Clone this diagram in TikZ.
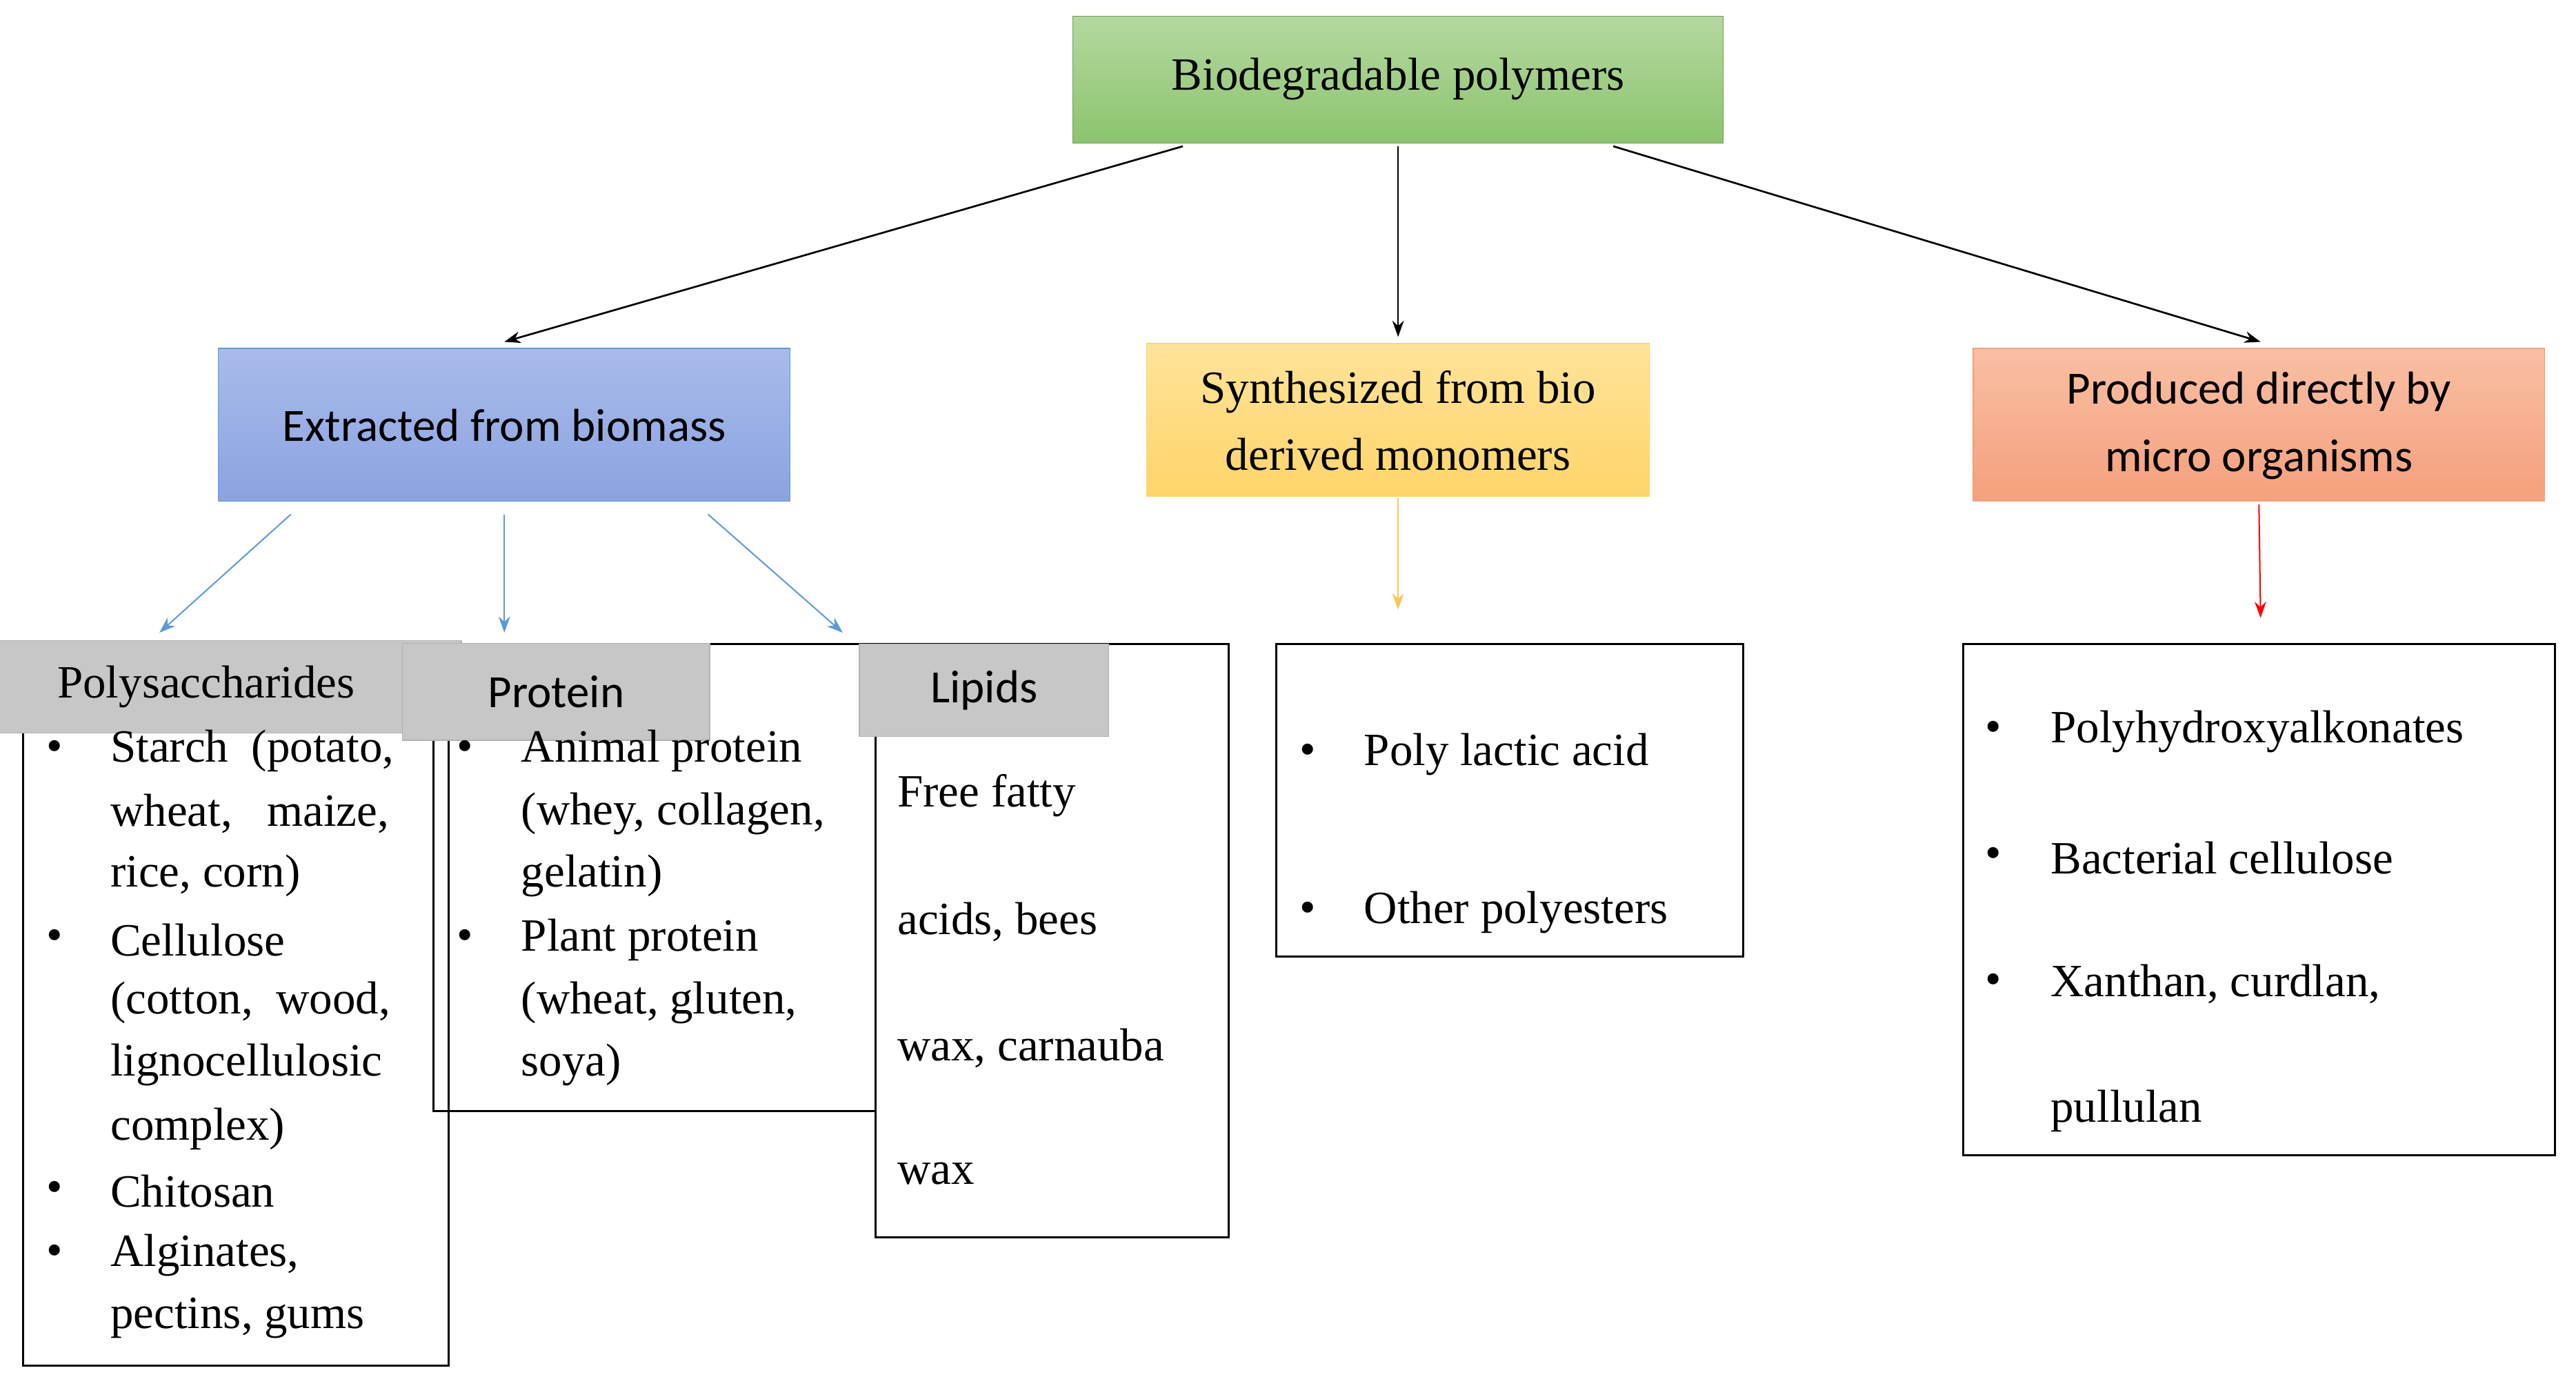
\documentclass[tikz,border=0pt]{standalone}
\usepackage{fontspec}
\setmainfont{Liberation Serif}
\newfontfamily\calfont{Carlito}
\usetikzlibrary{arrows.meta}
\definecolor{gA}{HTML}{B5D8A0}\definecolor{gB}{HTML}{8CC46E}
\definecolor{bA}{HTML}{A9BBEA}\definecolor{bB}{HTML}{8AA3E0}
\definecolor{yA}{HTML}{FFE49A}\definecolor{yB}{HTML}{FFD46A}
\definecolor{oA}{HTML}{F9BFA4}\definecolor{oB}{HTML}{F4A07C}
\definecolor{bl}{HTML}{5B9BD5}
\begin{document}
\begin{tikzpicture}[x=0.25mm,y=-0.25mm,
 t/.style={font=\fontsize{20}{24}\selectfont,inner sep=0pt,anchor=west},
 c/.style={font=\calfont\fontsize{20}{29}\selectfont,align=center},
 s/.style={font=\fontsize{20}{29}\selectfont,align=center},
 bx/.style={draw=black,line width=0.9pt},
 lab/.style={fill=black!22,draw=black!30,inner sep=0pt},
 ar/.style={-{Stealth[length=7pt,width=5pt]},line width=0.8pt}]
\useasboundingbox (0,0) rectangle (1568,843);
% top boxes
\fill[top color=gA,bottom color=gB] (653,10) rectangle (1049,87);
\draw[gB!80!black,line width=0.4pt] (653,10) rectangle (1049,87);
\node[s] (top) at (851,48) {Biodegradable polymers};
\fill[top color=bA,bottom color=bB] (133,212) rectangle (481,305);
\draw[bl,line width=0.4pt] (133,212) rectangle (481,305);
\node[c] (ext) at (307,259) {Extracted from biomass};
\fill[top color=yA,bottom color=yB] (698,209) rectangle (1004,302);
\draw[yB,line width=0.4pt] (698,209) rectangle (1004,302);
\node[s] (syn) at (851,256) {Synthesized from bio\\derived monomers};
\fill[top color=oA,bottom color=oB] (1201,212) rectangle (1549,305);
\draw[oB,line width=0.4pt] (1201,212) rectangle (1549,305);
\node[c] (pro) at (1375,259) {Produced directly by\\micro organisms};
% arrows
\coordinate (t1) at (720,89); \coordinate (t2) at (851,89); \coordinate (t3) at (982,89);
\coordinate (h1) at (307,208); \coordinate (h2) at (851,205); \coordinate (h3) at (1376,208);
\draw[ar] (t1)--(h1); \draw[ar] (t2)--(h2); \draw[ar] (t3)--(h3);
\coordinate (e1) at (177,313); \coordinate (e2) at (307,313); \coordinate (e3) at (431,313);
\coordinate (f1) at (97,385); \coordinate (f2) at (307,385); \coordinate (f3) at (513,385);
\draw[ar,bl,line width=0.6pt] (e1)--(f1); \draw[ar,bl,line width=0.6pt] (e2)--(f2); \draw[ar,bl,line width=0.6pt] (e3)--(f3);
\coordinate (y1) at (851,303); \coordinate (y2) at (851,371);
\draw[ar,yB!80!orange,line width=0.6pt] (y1)--(y2);
\coordinate (r1) at (1375,307); \coordinate (r2) at (1376,376);
\draw[ar,red,line width=0.6pt] (r1)--(r2);
% content boxes
\draw[bx] (14,392) rectangle (273,831);
\draw[bx] (264,392) rectangle (533,676);
\draw[bx] (533,392) rectangle (748,753);
\draw[bx] (777,392) rectangle (1061,582);
\draw[bx] (1195,392) rectangle (1555,703);
\node[lab,minimum width=221,minimum height=40,font=\fontsize{20}{24}\selectfont] (lp) at (125.5,418) {Polysaccharides};
\node[lab,minimum width=133,minimum height=42,font=\calfont\fontsize{20}{24}\selectfont] (lq) at (338.5,421) {Protein};
\node[lab,minimum width=108,minimum height=40,font=\calfont\fontsize{20}{24}\selectfont] (ll) at (599,420) {Lipids};
% polysaccharides
\foreach \y in {457,572,725,764} \node[t] at (28,\y) {•};
\foreach \y/\s in {457/{Starch\ \ (potato,},495/{wheat,\ \ \ maize,},533/{rice, corn)},572/{Cellulose},610/{(cotton,\ \ wood,},648/{lignocellulosic},687/{complex)},725/{Chitosan},764/{Alginates,},802/{pectins, gums}}
 \node[t] at (67,\y) {\s};
% protein
\foreach \y in {457,572} \node[t] at (278,\y) {•};
\foreach \y/\s in {457/{Animal protein},495/{(whey, collagen,},533/{gelatin)},572/{Plant protein},610/{(wheat, gluten,},648/{soya)}}
 \node[t] at (317,\y) {\s};
% lipids
\foreach \y/\s in {484/{Free fatty},561/{acids, bees},638/{wax, carnauba},714/{wax}}
 \node[t] at (546,\y) {\s};
% PLA
\foreach \y/\s in {459/{Poly lactic acid},555/{Other polyesters}} {\node[t] at (791,\y) {•}; \node[t] at (830,\y) {\s};}
% PHA
\foreach \y in {445,522,599} \node[t] at (1208,\y) {•};
\foreach \y/\s in {445/{Polyhydroxyalkonates},522/{Bacterial cellulose},599/{Xanthan, curdlan,},676/{pullulan}}
 \node[t] at (1248,\y) {\s};
\end{tikzpicture}
\end{document}
